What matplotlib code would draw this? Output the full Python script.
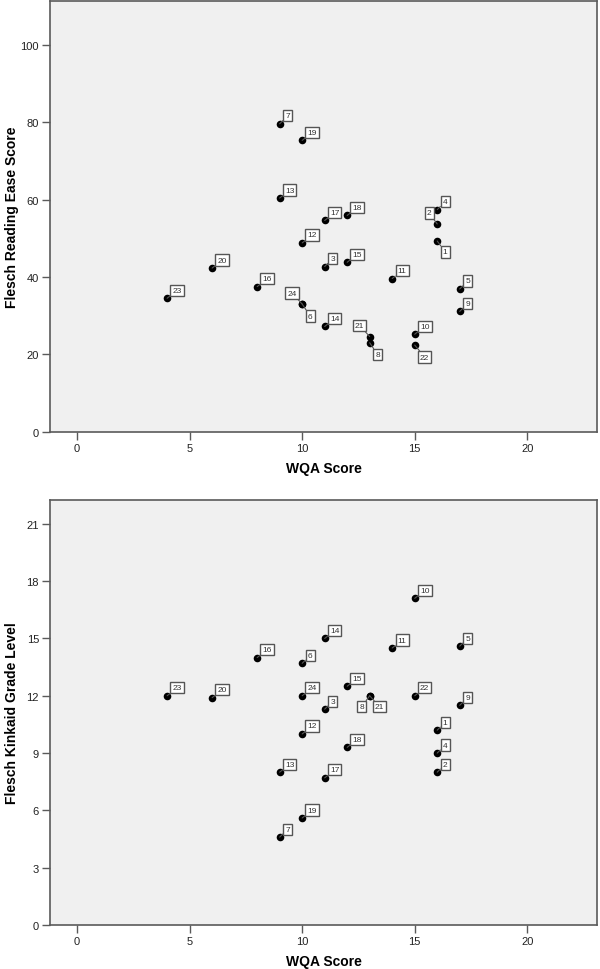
import matplotlib
matplotlib.use('Agg')
import matplotlib.pyplot as plt

plt.rcParams['font.family'] = ['Liberation Sans', 'DejaVu Sans']

# --- data (case number, WQA score, readability scores) ---
cases = [1, 2, 3, 4, 5, 6, 7, 8, 9, 10, 11, 12,
         13, 14, 15, 16, 17, 18, 19, 20, 21, 22, 23, 24]
wqa = [16, 16, 11, 16, 17, 10, 9, 13, 17, 15, 14, 10,
       9, 11, 12, 8, 11, 12, 10, 6, 13, 15, 4, 10]
fre = [49.3, 53.7, 42.7, 57.4, 36.9, 33.0, 79.6, 23.0, 31.1, 25.2, 39.6, 48.8,
       60.4, 27.2, 43.8, 37.5, 54.6, 55.9, 75.3, 42.3, 24.6, 22.4, 34.5, 33.0]
fkgl = [10.2, 8.0, 11.3, 9.0, 14.6, 13.7, 4.6, 12.0, 11.5, 17.1, 14.5, 10.0,
        8.0, 15.0, 12.5, 14.0, 7.7, 9.3, 5.6, 11.9, 12.0, 12.0, 12.0, 12.0]

# label placement overrides (pixel offsets from point, y up)
top_moves = {2: (-8, 11), 1: (8, -11), 24: (-10, 11), 6: (8, -12),
             21: (-10, 11), 8: (8, -12), 22: (10, -12)}
bot_moves = {8: (-8, -11), 21: (10, -11)}

BG = '#f0f0f0'
EDGE = '#5a5a5a'

fig = plt.figure(figsize=(6, 9.7), dpi=100)
ax1 = fig.add_axes([0.0835, 0.5539, 0.9115, 0.4443])
ax2 = fig.add_axes([0.0835, 0.0454, 0.9115, 0.4381])


def draw_panel(ax, yvals, ylabel, ylim, yticks, moves):
    ax.set_facecolor(BG)
    ax.scatter(wqa, yvals, s=30, color='black', zorder=3, linewidths=0)
    for c, x, y in zip(cases, wqa, yvals):
        default = (8, 8) if c < 10 else (10, 8)
        dx, dy = moves.get(c, default)
        ax.annotate(str(c), (x, y), xytext=(dx, dy), textcoords='offset pixels',
                    ha='center', va='center', fontsize=6, color='#333333',
                    bbox=dict(boxstyle='square,pad=0.25', fc='white', ec='#555555', lw=1),
                    arrowprops=dict(arrowstyle='-', color='#555555', lw=0.8,
                                    shrinkA=0, shrinkB=0),
                    zorder=4)
    ax.set_xlim(-1.2, 23.1)
    ax.set_ylim(*ylim)
    ax.set_xticks([0, 5, 10, 15, 20])
    ax.set_yticks(yticks)
    ax.tick_params(direction='out', length=6, width=1, color=EDGE,
                   labelsize=8, labelcolor='#222222', pad=2)
    for s in ax.spines.values():
        s.set_color(EDGE)
        s.set_linewidth(1.2)
    ax.set_xlabel('WQA Score', fontsize=10, fontweight='bold')
    ax.set_ylabel(ylabel, fontsize=10, fontweight='bold')
    h = ax.get_position().height * 970
    ax.xaxis.set_label_coords(0.5, -29 / h)
    ax.yaxis.set_label_coords(-31 / 547, 0.5)


draw_panel(ax1, fre, 'Flesch Reading Ease Score', (0, 111.4),
           [0, 20, 40, 60, 80, 100], top_moves)
draw_panel(ax2, fkgl, 'Flesch Kinkaid Grade Level', (0, 22.25),
           [0, 3, 6, 9, 12, 15, 18, 21], bot_moves)

fig.savefig('out.png', dpi=100, facecolor='white')
